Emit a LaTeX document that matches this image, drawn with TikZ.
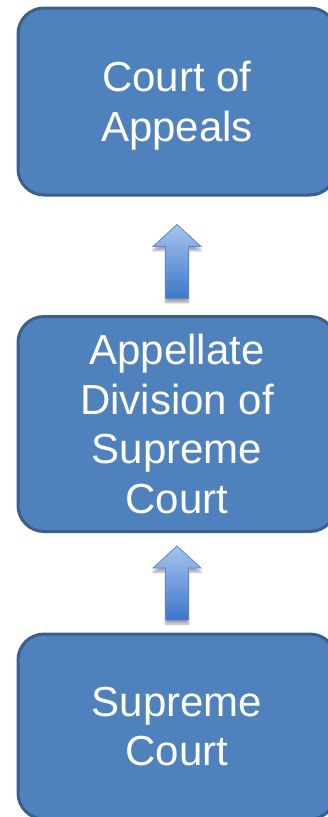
\documentclass[tikz,border=0pt]{standalone}
\usepackage{fontspec}
\setmainfont{Liberation Sans}
\usetikzlibrary{calc,shadows.blur}
\definecolor{boxfill}{HTML}{4F81BD}
\definecolor{boxline}{HTML}{3A5F8C}
\definecolor{arrtop}{HTML}{A6C4EE}
\definecolor{arrbot}{HTML}{3C76CB}
\definecolor{arrline}{HTML}{5A88C8}

% Block arrow pointing up, tip placed #2 below the south side of node #1
\newcommand\blockarrowup[2]{%
  \path[flowarrow] ($(#1.south)+(0,#2)$) -- ++(24,22) -- ++(-12.5,0) -- ++(0,52)
    -- ++(-23,0) -- ++(0,-52) -- ++(-12.5,0) -- cycle;}

\begin{document}
\begin{tikzpicture}[x=1pt,y=-1pt,
  court/.style={draw=boxline, line width=3pt, fill=boxfill, rounded corners=26pt,
    text=white, align=center, font=\fontsize{42}{49.5}\selectfont,
    text depth=0pt, minimum width=318pt, inner sep=0pt},
  flowarrow/.style={draw=arrline, line width=0.8pt, top color=arrtop, bottom color=arrbot,
    blur shadow={shadow xshift=0pt, shadow yshift=-4pt, shadow blur steps=6,
      shadow opacity=35}}]
  \useasboundingbox (0,0) rectangle (328,817);

  \node[court, minimum height=187pt] (appeals) at (177,101.5) {Court of\\Appeals};
  \node[court, minimum height=215pt] (division) at (177,424) {Appellate\\Division of\\Supreme\\Court};
  \node[court, minimum height=185pt] (supreme) at (177,726.5) {Supreme\\Court};

  \blockarrowup{appeals}{28}
  \blockarrowup{division}{13}
\end{tikzpicture}
\end{document}
